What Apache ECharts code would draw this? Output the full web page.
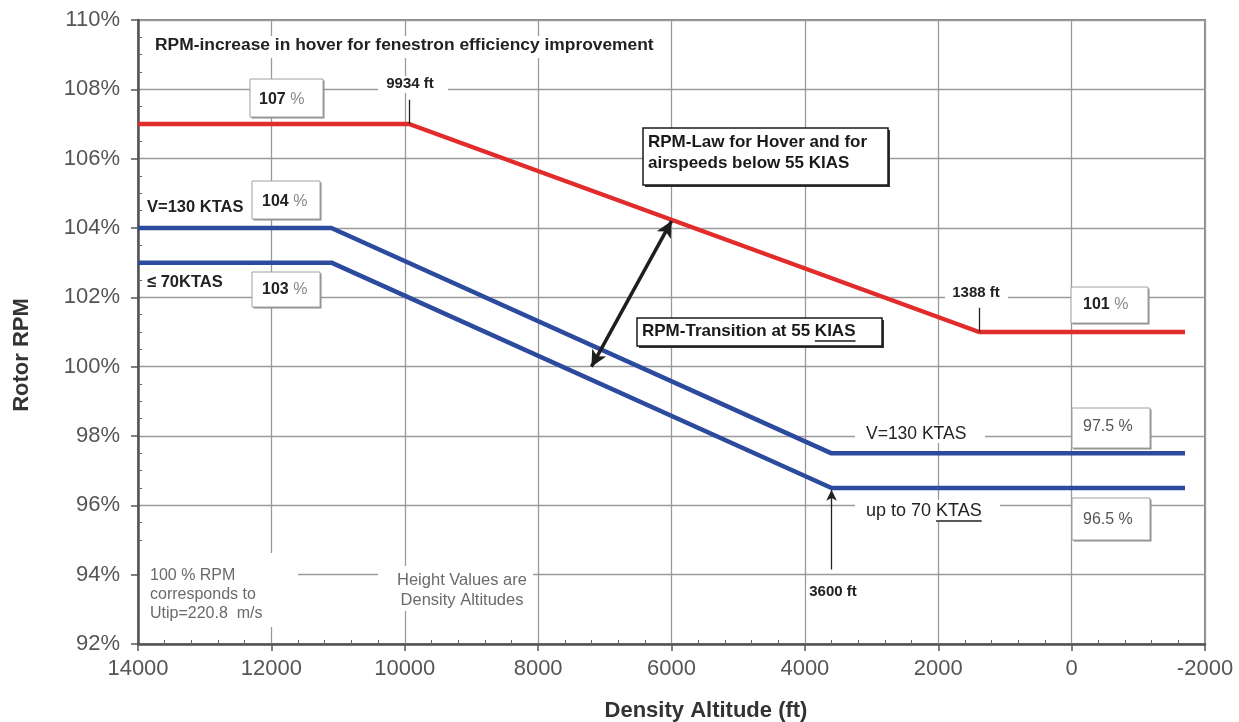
<!DOCTYPE html>
<html><head><meta charset="utf-8">
<script src="https://cdn.jsdelivr.net/npm/echarts@6/dist/echarts.min.js"></script>
<style>html,body{margin:0;padding:0;background:#fff}#c{width:1239px;height:722px}</style>
</head><body><div id="c"></div>
<script>
// ---- data ----
const hoverAltitude = [14000, 9934, 1388, -1700];
const hoverRpm = [107, 107, 101, 101];
const fastAltitude = [14000, 11100, 3600, -1700];
const fastRpm = [104, 104, 97.5, 97.5];
const slowAltitude = [14000, 11100, 3600, -1700];
const slowRpm = [103, 103, 96.5, 96.5];
const xRange = [-2000, 14000];
const yRange = [92, 110];
// annotation anchors in data units (ft, %)
const transitionArrow = [[7200, 100], [6000, 104.2]];
const breakTicks = [[[9934, 107.7], [9934, 107]], [[1388, 101.7], [1388, 101]]];
const arrow3600 = [[3600, 94.15], [3600, 96.45]];

const F = '"Liberation Sans", Arial, Helvetica, sans-serif';
const mctx = document.createElement('canvas').getContext('2d');
function tw(t, font) { mctx.font = font; return mctx.measureText(t).width; }

const G = [];
function rect(x, y, w, h, st) {
  G.push({type: 'rect', z: 10, silent: true, shape: {x, y, width: w, height: h},
    style: Object.assign({fill: '#fff', stroke: null, lineWidth: 0}, st || {})});
}
function text(x, y, str, font, fill, align, rot) {
  const el = {type: 'text', z: 11, silent: true, x, y,
    style: {text: str, font, fill, align: align || 'left', verticalAlign: 'middle',
            textAlign: align || 'left', textVerticalAlign: 'middle'}};
  if (rot) el.rotation = rot;
  G.push(el);
}
function uline(x, y, prefix, word, font, color) {
  const x1 = x + tw(prefix, font), x2 = x1 + tw(word, font);
  G.push({type: 'line', z: 11, silent: true, shape: {x1, y1: y, x2, y2: y},
    style: {stroke: color, lineWidth: 1.3}});
}
function shadowBox(x, y, w, h, stroke, lw, shadow, off) {
  rect(x + off, y + off, w, h, {fill: shadow});
  rect(x, y, w, h, {fill: '#fff', stroke: stroke, lineWidth: lw});
}
function pctBox(x, y, w, h, num, tx, ty) {
  shadowBox(x, y, w, h, '#a0a0a0', 1, '#8c8c8c', 1.5);
  const fb = 'bold 16px ' + F, fn = '16px ' + F;
  text(tx, ty, num, fb, '#222');
  text(tx + tw(num + ' ', fb), ty, '%', fn, '#888');
}

// top note
rect(150, 36, 510, 22);
text(155, 45, 'RPM-increase in hover for fenestron efficiency improvement', 'bold 17.4px ' + F, '#222');
// 107 %
pctBox(250, 79, 73, 38, '107', 259, 100);
// 9934 ft
rect(378, 76, 70, 17);
text(410, 84, '9934 ft', 'bold 15px ' + F, '#222', 'center');
// RPM-Law box
shadowBox(643, 128, 245, 57, '#1a1a1a', 1.5, '#333', 2);
text(648, 142, 'RPM-Law for Hover and for', 'bold 17px ' + F, '#1a1a1a');
text(648, 163, 'airspeeds below 55 KIAS', 'bold 17px ' + F, '#1a1a1a');
// RPM-Transition box
shadowBox(637, 318, 245, 28, '#1a1a1a', 1.5, '#333', 2);
text(642, 331, 'RPM-Transition at 55 KIAS', 'bold 17px ' + F, '#1a1a1a');
uline(642, 341, 'RPM-Transition at 55 ', 'KIAS', 'bold 17px ' + F, '#1a1a1a');
// 1388 ft
rect(945, 285, 63, 17);
text(976, 293, '1388 ft', 'bold 15px ' + F, '#222', 'center');
pctBox(1071, 287, 77, 36, '101', 1083, 305);
// left labels
text(147, 207, 'V=130 KTAS', 'bold 16.5px ' + F, '#222');
pctBox(252, 181, 68, 38, '104', 262, 202);
text(147, 282, '\u2264 70KTAS', 'bold 16.5px ' + F, '#222');
pctBox(252, 272, 68, 35, '103', 262, 290);
// right labels
rect(855, 425, 130, 18);
text(866, 434, 'V=130 KTAS', '17.5px ' + F, '#222');
shadowBox(1072, 408, 78, 40, '#a0a0a0', 1, '#8c8c8c', 1.5);
text(1083, 427, '97.5 %', '16px ' + F, '#555');
rect(855, 500, 145, 22);
text(866, 511, 'up to 70 KTAS', '18px ' + F, '#222');
uline(866, 521, 'up to 70 ', 'KTAS', '18px ' + F, '#222');
shadowBox(1072, 498, 78, 42, '#a0a0a0', 1, '#8c8c8c', 1.5);
text(1083, 520, '96.5 %', '16px ' + F, '#555');
rect(806, 583, 58, 18);
text(833, 592, '3600 ft', 'bold 15px ' + F, '#222', 'center');
// bottom notes
rect(140, 553, 158, 74);
text(150, 576, '100 % RPM', '16px ' + F, '#6a6a6a');
text(150, 595, 'corresponds to', '16px ' + F, '#6a6a6a');
text(150, 614, 'Utip=220.8  m/s', '16px ' + F, '#6a6a6a');
rect(378, 566, 155, 45);
text(462, 580, 'Height Values are', '16.5px ' + F, '#6a6a6a', 'center');
text(462, 600, 'Density Altitudes', '16.5px ' + F, '#6a6a6a', 'center');
// axis titles
text(22, 355, 'Rotor RPM', 'bold 22px ' + F, '#333', 'center', Math.PI / 2);
text(706, 711, 'Density Altitude (ft)', 'bold 22px ' + F, '#333', 'center');

function pairs(a, b) { return a.map((v, i) => [v, b[i]]); }
const axisCommon = {axisLine: {show: true, onZero: false, lineStyle: {color: '#555', width: 2.5}},
  axisTick: {show: true, length: 7, lineStyle: {color: '#555', width: 1.5}},
  splitLine: {show: true, lineStyle: {color: '#9a9a9a', width: 1.3}}};
const minorAxis = {axisLine: {show: false, onZero: false}, axisTick: {show: false, inside: true},
  axisLabel: {show: false}, splitLine: {show: false}};

const chart = echarts.init(document.getElementById('c'), null, {renderer: 'canvas'});
chart.setOption({
  animation: false,
  grid: {left: 138, top: 20, right: 34, bottom: 78, show: true, borderColor: '#8a8a8a', borderWidth: 2},
  xAxis: [
    Object.assign({type: 'value', inverse: true, min: xRange[0], max: xRange[1], interval: 2000, position: 'bottom',
      axisLabel: {fontSize: 22, fontFamily: F, color: '#555', margin: 14, formatter: v => String(v)}}, axisCommon),
    Object.assign({type: 'value', inverse: true, min: xRange[0], max: xRange[1], interval: 2000, position: 'bottom',
      minorTick: {show: true, splitNumber: 5, length: 4, lineStyle: {color: '#666', width: 1}}}, minorAxis)
  ],
  yAxis: [
    Object.assign({type: 'value', min: yRange[0], max: yRange[1], interval: 2, position: 'left',
      axisLabel: {fontSize: 22, fontFamily: F, color: '#555', margin: 18, formatter: '{value}%'}}, axisCommon),
    Object.assign({type: 'value', min: yRange[0], max: yRange[1], interval: 2, position: 'left',
      minorTick: {show: true, splitNumber: 4, length: 4, lineStyle: {color: '#666', width: 1}}}, minorAxis)
  ],
  series: [
    {type: 'line', name: 'hover', data: pairs(hoverAltitude, hoverRpm), symbol: 'none', z: 3,
      lineStyle: {color: '#e22b2b', width: 4.5}, itemStyle: {color: '#e22b2b'},
      markLine: {silent: true, symbol: 'none', label: {show: false}, lineStyle: {color: '#222', width: 1.3, type: 'solid'},
        data: breakTicks.map(p => [{coord: p[0]}, {coord: p[1]}])}},
    {type: 'line', name: 'fast', data: pairs(fastAltitude, fastRpm), symbol: 'none', z: 3,
      lineStyle: {color: '#2c4a9e', width: 4.5}, itemStyle: {color: '#2c4a9e'},
      markLine: {silent: true, symbol: ['arrow', 'arrow'], symbolSize: [12, 16], label: {show: false},
        lineStyle: {color: '#1e1e1e', width: 3.5, type: 'solid'},
        data: [[{coord: transitionArrow[0]}, {coord: transitionArrow[1]}]]}},
    {type: 'line', name: 'slow', data: pairs(slowAltitude, slowRpm), symbol: 'none', z: 3,
      lineStyle: {color: '#2c4a9e', width: 4.5}, itemStyle: {color: '#2c4a9e'},
      markLine: {silent: true, symbol: ['none', 'arrow'], symbolSize: [8, 11], label: {show: false},
        lineStyle: {color: '#222', width: 1.3, type: 'solid'},
        data: [[{coord: arrow3600[0]}, {coord: arrow3600[1]}]]}}
  ],
  graphic: {elements: G}
});
</script></body></html>
